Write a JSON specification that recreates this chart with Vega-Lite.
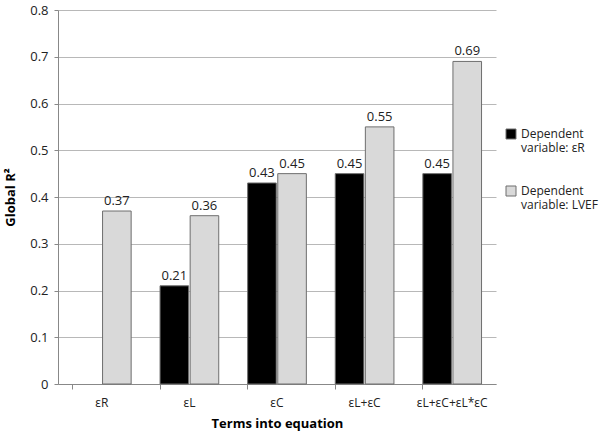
{
  "$schema": "https://vega.github.io/schema/vega-lite/v6.json",
  "width": 438,
  "height": 374,
  "autosize": "none",
  "padding": {"left": 58, "top": 10, "right": 105, "bottom": 50},
  "background": "white",
  "config": {
    "font": "Open Sans",
    "view": {"stroke": null},
    "axis": {"labelFont": "Open Sans", "titleFont": "Open Sans"}
  },
  "data": {
    "values": [
      {"term": "εR", "series": "Dependent variable: εR", "r2": null},
      {"term": "εR", "series": "Dependent variable: LVEF", "r2": 0.37},
      {"term": "εL", "series": "Dependent variable: εR", "r2": 0.21},
      {"term": "εL", "series": "Dependent variable: LVEF", "r2": 0.36},
      {"term": "εC", "series": "Dependent variable: εR", "r2": 0.43},
      {"term": "εC", "series": "Dependent variable: LVEF", "r2": 0.45},
      {"term": "εL+εC", "series": "Dependent variable: εR", "r2": 0.45},
      {"term": "εL+εC", "series": "Dependent variable: LVEF", "r2": 0.55},
      {"term": "εL+εC+εL*εC", "series": "Dependent variable: εR", "r2": 0.45},
      {"term": "εL+εC+εL*εC", "series": "Dependent variable: LVEF", "r2": 0.69}
    ]
  },
  "encoding": {
    "x": {
      "field": "term",
      "type": "nominal",
      "sort": null,
      "scale": {"paddingInner": 0.33, "paddingOuter": 0.165},
      "axis": {
        "title": "Terms into equation",
        "titleFontSize": 13,
        "titleFontWeight": "bold",
        "titleColor": "#000",
        "titlePadding": 9,
        "labelAngle": 0,
        "labelFontSize": 12,
        "labelColor": "#222",
        "labelPadding": 8,
        "bandPosition": 0,
        "tickSize": 5,
        "tickColor": "#888",
        "domainColor": "#888",
        "grid": false
      }
    },
    "xOffset": {
      "field": "series",
      "type": "nominal",
      "sort": ["Dependent variable: εR", "Dependent variable: LVEF"],
      "scale": {"paddingInner": 0.05}
    },
    "y": {
      "field": "r2",
      "type": "quantitative",
      "scale": {"domain": [0, 0.8]},
      "axis": {
        "title": "Global R²",
        "titleFontSize": 13,
        "titleFontWeight": "bold",
        "titleColor": "#000",
        "titlePadding": 12,
        "values": [0, 0.1, 0.2, 0.3, 0.4, 0.5, 0.6, 0.7, 0.8],
        "format": "~g",
        "labelFontSize": 13,
        "labelColor": "#222",
        "labelPadding": 6,
        "tickSize": 4,
        "tickColor": "#888",
        "domainColor": "#888",
        "gridColor": "#b8b8b8",
        "gridWidth": 1
      }
    }
  },
  "layer": [
    {
      "mark": {"type": "bar", "stroke": "#6e6e6e", "strokeWidth": 1},
      "encoding": {
        "color": {
          "field": "series",
          "type": "nominal",
          "sort": ["Dependent variable: εR", "Dependent variable: LVEF"],
          "scale": {"domain": ["Dependent variable: εR", "Dependent variable: LVEF"], "range": ["#000000", "#d9d9d9"]},
          "legend": {
            "title": null,
            "orient": "none",
            "legendX": 447,
            "legendY": 118,
            "symbolType": "square",
            "symbolSize": 100,
            "symbolStrokeWidth": 1,
            "labelFontSize": 12,
            "labelColor": "#222",
            "labelFont": "Open Sans",
            "labelLineHeight": 18,
            "labelOffset": 4,
            "rowPadding": 30,
            "labelExpr": "datum.label == 'Dependent variable: εR' ? ['Dependent', 'variable: εR'] : ['Dependent', 'variable: LVEF']"
          }
        }
      }
    },
    {
      "mark": {"type": "text", "baseline": "bottom", "dy": -3, "fontSize": 13, "color": "#222", "font": "Open Sans"},
      "encoding": {
        "text": {"field": "r2", "type": "quantitative", "format": ".2f"}
      }
    }
  ]
}
